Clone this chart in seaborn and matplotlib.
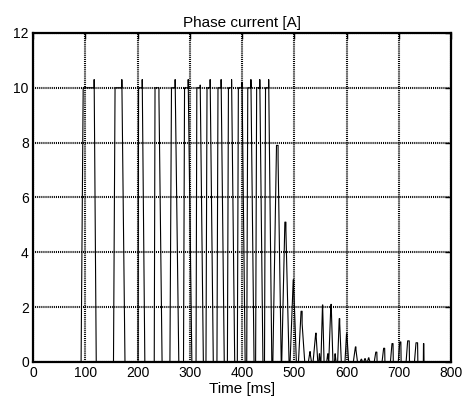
import numpy as np
import pandas as pd
import matplotlib
matplotlib.use("Agg")
import matplotlib.pyplot as plt
import seaborn as sns

# Current pulses of one phase: switch-on, time the current reaches its
# first level, that level, switch-off, current at switch-off, extinction.
t_on = [92, 154, 201, 232, 262, 288, 312, 331, 352, 372, 391, 409, 426, 443,
        459, 476, 492, 508, 527, 536, 547, 551, 562, 566, 577, 583, 597, 613,
        626, 633, 640, 653, 668, 684, 699, 714, 730, 747]
t_pk = [96, 157, 202, 233.5, 265, 290, 313.5, 333, 354, 374, 393, 411, 428, 445,
        466, 482, 498, 513, 530, 541, 548, 554, 564, 570, 578, 586, 600, 617,
        628, 635, 642, 656, 671, 687, 702, 717, 733, 747.3]
i_pk = [10.0, 10.0, 10.0, 10.0, 10.0, 10.0, 10.0, 10.0, 10.0, 10.0, 10.0, 10.0,
        10.0, 10.0, 7.9, 5.1, 3.0, 1.85, 0.38, 1.05, 0.3, 2.08, 0.3, 2.1, 0.3,
        1.58, 1.03, 0.55, 0.1, 0.12, 0.15, 0.36, 0.5, 0.67, 0.73, 0.77, 0.7, 0.67]
t_off = [117, 170, 209, 241, 272, 297, 320, 339, 360, 380, 400, 417, 434, 451,
         469, 484, 499, 515, 530.5, 542, 548.5, 554.5, 564.5, 571, 578.5, 587,
         601, 618, 629, 636, 643, 658, 673, 689, 704, 720, 736, 748]
i_off = [10.3, 10.3, 10.3, 9.7, 10.3, 10.3, 10.1, 10.3, 10.3, 10.3, 10.2, 10.3,
         10.3, 10.3, 7.4, 4.8, 2.7, 1.4, 0.3, 0.9, 0.25, 1.9, 0.2, 1.9, 0.25,
         1.4, 0.9, 0.45, 0.08, 0.1, 0.12, 0.36, 0.48, 0.65, 0.7, 0.74, 0.67, 0.67]
t_end = [121, 176, 214, 247, 279, 304, 326, 345, 366, 386, 406, 423, 440, 457,
         475, 490, 504, 520, 533, 545, 550, 557, 566, 574, 580, 590, 604, 621,
         631, 638, 645, 658.5, 673.5, 689.5, 704.5, 720.5, 736.5, 748.3]

x_ticks = [0, 100, 200, 300, 400, 500, 600, 700, 800]
y_ticks = [0, 2, 4, 6, 8, 10, 12]

# Build the trace: zero between pulses, each pulse as rise / plateau / fall
t_trace, i_trace = [0.0], [0.0]
for a, b, ib, c, ic, d in zip(t_on, t_pk, i_pk, t_off, i_off, t_end):
    t_trace += [a, b, c, c, d]
    i_trace += [0.0, ib, ib, ic, 0.0]
trace = pd.DataFrame({"Time [ms]": t_trace, "Current [A]": i_trace})

sns.set_theme(style="white")
plt.rcParams["font.family"] = ["Liberation Sans", "DejaVu Sans"]
plt.rcParams["lines.scale_dashes"] = False

fig = plt.figure(figsize=(4.71, 4.05), dpi=100)
ax = fig.add_axes([0.0701, 0.1062, 0.8875, 0.8124])

sns.lineplot(data=trace, x="Time [ms]", y="Current [A]", sort=False,
             estimator=None, color="black", linewidth=0.8, ax=ax)

ax.set_xlim(0, 800)
ax.set_ylim(0, 12)
ax.set_xticks(x_ticks)
ax.set_yticks(y_ticks)
ax.grid(True, color="black", linestyle=(0, (0.75, 0.75)), linewidth=1.5)
ax.set_axisbelow(False)
for s in ax.spines.values():
    s.set_color("black")
    s.set_linewidth(1.6)
ax.tick_params(axis="both", direction="in", length=4, width=1, colors="black",
               labelsize=10, pad=3, top=True, right=True)
ax.set_xlabel("Time [ms]", fontsize=11, labelpad=1, color="black")
ax.set_ylabel("")
ax.set_title("Phase current [A]", fontsize=11, pad=4, color="black")
if ax.get_legend() is not None:
    ax.get_legend().remove()

fig.savefig("out.png", dpi=100, facecolor="white")
